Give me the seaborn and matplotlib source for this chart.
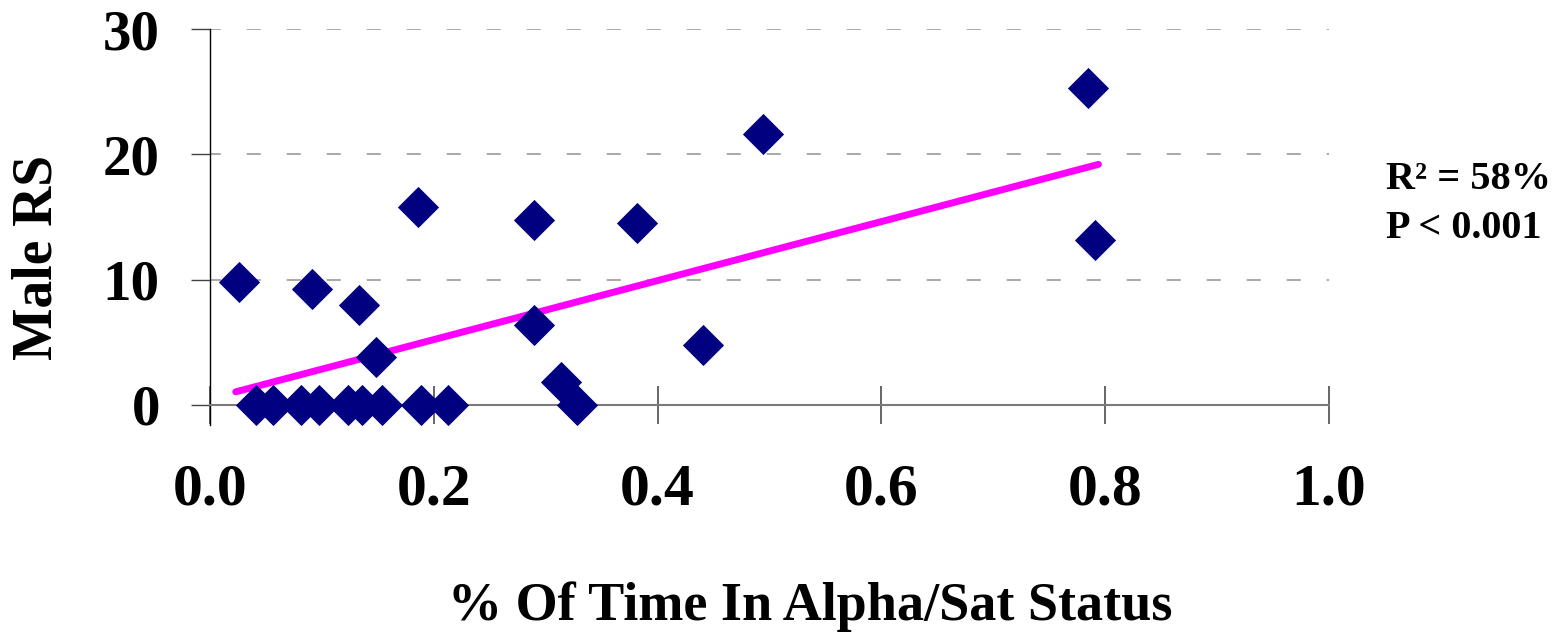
import numpy as np
import pandas as pd
import matplotlib
matplotlib.use("Agg")
import matplotlib.pyplot as plt
import seaborn as sns

# values
alpha_time = [0.026, 0.041, 0.056, 0.081, 0.0915, 0.097, 0.123, 0.133, 0.136,
              0.148, 0.154, 0.186, 0.189, 0.213, 0.290, 0.290, 0.314, 0.328,
              0.382, 0.441, 0.494, 0.785, 0.791]
male_rs = [9.8, 0, 0, 0, 9.25, 0, 0, 7.95, 0,
           3.85, 0, 15.8, 0, 0, 14.75, 6.35, 1.85, 0,
           14.5, 4.75, 21.6, 25.3, 13.15]

# trend line end points
trend_x = [0.023, 0.794]
trend_y = [1.05, 19.2]

x_ticks = [0.0, 0.2, 0.4, 0.6, 0.8, 1.0]
x_tick_labels = ["0.0", "0.2", "0.4", "0.6", "0.8", "1.0"]
y_ticks = [0, 10, 20, 30]
stats_text = ["R\u00b2 = 58%", "P < 0.001"]

df = pd.DataFrame({"alpha_time": alpha_time, "male_rs": male_rs})
trend = pd.DataFrame({"x": trend_x, "y": trend_y})

sns.set_theme(style="white")
plt.rcParams["font.family"] = ["Liberation Serif", "DejaVu Serif"]
plt.rcParams["font.weight"] = "bold"
plt.rcParams["text.color"] = "black"
plt.rcParams["axes.labelcolor"] = "black"
plt.rcParams["xtick.color"] = "black"
plt.rcParams["ytick.color"] = "black"

fig = plt.figure(figsize=(15.67, 6.39), dpi=100)
ax = fig.add_axes([0.1340, 0.3349, 0.7141, 0.6197])

# dashed gridlines
ax.grid(axis="y", color="#9a9a9a", linewidth=1.2, linestyle=(2, (8.5, 15.5)))
ax.set_axisbelow(True)

sns.lineplot(data=trend, x="x", y="y", color="#ff00ff", linewidth=5, ax=ax, zorder=2)
sns.scatterplot(data=df, x="alpha_time", y="male_rs", marker="D", s=440,
                color="#000080", linewidth=0, ax=ax, zorder=3)

ax.set_xlim(0, 1.0)
ax.set_ylim(-1.596, 30)
ax.set_xticks(x_ticks)
ax.set_xticklabels(x_tick_labels)
ax.set_yticks(y_ticks)

for side in ["top", "right"]:
    ax.spines[side].set_visible(False)
ax.spines["bottom"].set_position(("data", 0))
ax.spines["bottom"].set_color("#7a7a7a")
ax.spines["bottom"].set_linewidth(1.5)
ax.spines["left"].set_color("black")
ax.spines["left"].set_linewidth(1.0)

ax.tick_params(axis="x", bottom=True, direction="inout", length=28, width=1.4,
               color="#666666", labelcolor="black", pad=28, labelsize=43)
ax.tick_params(axis="y", left=True, direction="out", length=14, width=1.0,
               color="#444444", labelcolor="black", pad=22, labelsize=41)
for lab in ax.get_xticklabels() + ax.get_yticklabels():
    lab.set_fontweight("bold")

ax.set_xlabel("% Of Time In Alpha/Sat Status", fontsize=39, fontweight="bold")
ax.set_ylabel("Male RS", fontsize=40, fontweight="bold")
ax.xaxis.label.set_va("baseline")
ax.yaxis.label.set_va("baseline")
ax.xaxis.set_label_coords(0.536, -0.4924)
ax.yaxis.set_label_coords(-0.1412, 0.423)

fig.text(0.8845, 0.7042, stats_text[0], fontsize=29, fontweight="bold", va="baseline")
fig.text(0.8845, 0.6275, stats_text[1], fontsize=29, fontweight="bold", va="baseline")

fig.savefig("out.png", dpi=100, facecolor="white")
